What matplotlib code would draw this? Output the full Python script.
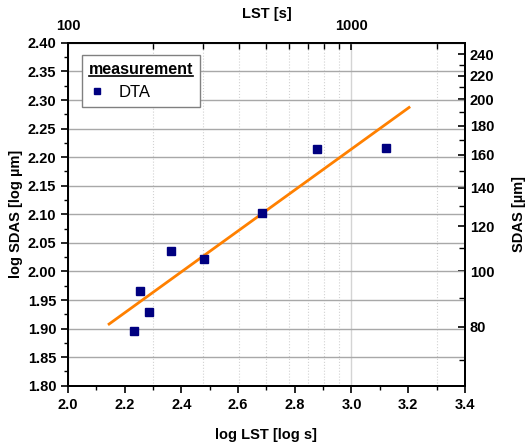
import numpy as np
import matplotlib
matplotlib.use('Agg')
import matplotlib.pyplot as plt
from matplotlib.ticker import FixedLocator, NullFormatter, MultipleLocator
from matplotlib.lines import Line2D

plt.rcParams['font.family'] = ['Liberation Sans', 'DejaVu Sans']
plt.rcParams['font.weight'] = 'bold'
plt.rcParams['font.size'] = 10.5

# measured DTA points (log LST vs log SDAS)
log_lst = [2.234, 2.254, 2.285, 2.363, 2.481, 2.686, 2.878, 3.121]
log_sdas = [1.895, 1.966, 1.929, 2.036, 2.021, 2.103, 2.214, 2.216]

# linear fit, end points
fit_x = [2.145, 3.203]
fit_y = [1.908, 2.287]

lst_major = [100, 1000]
lst_minor = [200, 300, 400, 500, 600, 700, 800, 900, 2000]
sdas_major = [80, 100, 120, 140, 160, 180, 200, 220, 240]
sdas_minor = [70, 90, 110, 130, 150, 170, 190, 210, 230]

fig = plt.figure(figsize=(5.25, 4.47), dpi=100)
ax = fig.add_axes([0.1295, 0.137, 0.756, 0.767])

ax.set_xlim(2.0, 3.4)
ax.set_ylim(1.80, 2.40)
ax.xaxis.set_major_locator(MultipleLocator(0.2))
ax.xaxis.set_minor_locator(MultipleLocator(0.1))
ax.yaxis.set_major_locator(MultipleLocator(0.05))
ax.yaxis.set_minor_locator(MultipleLocator(0.025))
ax.xaxis.set_major_formatter(matplotlib.ticker.FormatStrFormatter('%.1f'))
ax.yaxis.set_major_formatter(matplotlib.ticker.FormatStrFormatter('%.2f'))
ax.tick_params(which='major', direction='out', length=5, width=1.2, labelsize=10.5)
ax.tick_params(which='minor', direction='out', length=3, width=1.0)
ax.yaxis.grid(True, which='major', color='#a8a8a8', lw=1.0)
ax.set_axisbelow(True)

# secondary axes: real LST and SDAS values on log scale
axt = ax.twiny()
axt.set_xscale('log')
axt.set_xlim(10 ** 2.0, 10 ** 3.4)
axt.xaxis.set_major_locator(FixedLocator(lst_major))
axt.xaxis.set_minor_locator(FixedLocator(lst_minor))
axt.xaxis.set_minor_formatter(NullFormatter())
axt.set_xticklabels([str(v) for v in lst_major])
axt.tick_params(which='major', direction='in', length=5, width=1.2, labelsize=10.5, pad=7)
axt.tick_params(which='minor', direction='in', length=4, width=1.0)
axt.xaxis.grid(True, which='minor', color='#d2d2d2', lw=0.8, ls=':')
axt.xaxis.grid(True, which='major', color='#d4d4d4', lw=1.0)
axt.set_xlabel('LST [s]', fontweight='bold', labelpad=1)

axr = ax.twinx()
axr.set_yscale('log')
axr.set_ylim(10 ** 1.8, 10 ** 2.4)
axr.yaxis.set_major_locator(FixedLocator(sdas_major))
axr.yaxis.set_minor_locator(FixedLocator(sdas_minor))
axr.yaxis.set_minor_formatter(NullFormatter())
axr.set_yticklabels([str(v) for v in sdas_major])
axr.tick_params(which='major', direction='in', length=5, width=1.2, labelsize=10.5)
axr.tick_params(which='minor', direction='in', length=4, width=1.0)
axr.set_ylabel('SDAS [µm]', fontweight='bold', labelpad=13)

for a in (ax, axt, axr):
    for s in a.spines.values():
        s.set_linewidth(1.4)

ax.set_zorder(axr.get_zorder() + 1)
ax.patch.set_visible(False)
axt.set_zorder(0)
axr.set_zorder(0)

ax.plot(fit_x, fit_y, color='#ff8000', lw=2.0, zorder=3)
ax.plot(log_lst, log_sdas, ls='none', marker='s', ms=6, color='#000080',
        mec='#000080', zorder=4)

ax.set_xlabel('log LST [log s]', fontweight='bold', labelpad=12)
ax.set_ylabel('log SDAS [log µm]', fontweight='bold', labelpad=3)

handle = Line2D([], [], ls='none', marker='s', ms=5, color='#000080')
leg = ax.legend([handle], ['DTA'], title='measurement', loc='upper left',
                bbox_to_anchor=(0.035, 0.965), fancybox=False, framealpha=1,
                edgecolor='#808080', borderaxespad=0, handlelength=1.0,
                handletextpad=0.8, borderpad=0.4,
                prop={'weight': 'normal', 'size': 12},
                title_fontproperties={'weight': 'bold', 'size': 11.5})
leg.get_frame().set_linewidth(1.0)
leg._legend_box.align = 'left'

# underline the legend title
fig.canvas.draw()
bb = leg.get_title().get_window_extent().transformed(fig.transFigure.inverted())
fig.add_artist(Line2D([bb.x0, bb.x1], [bb.y0 + 0.001, bb.y0 + 0.001],
                      transform=fig.transFigure, color='black', lw=1.2))

fig.savefig('out.png', dpi=100)
